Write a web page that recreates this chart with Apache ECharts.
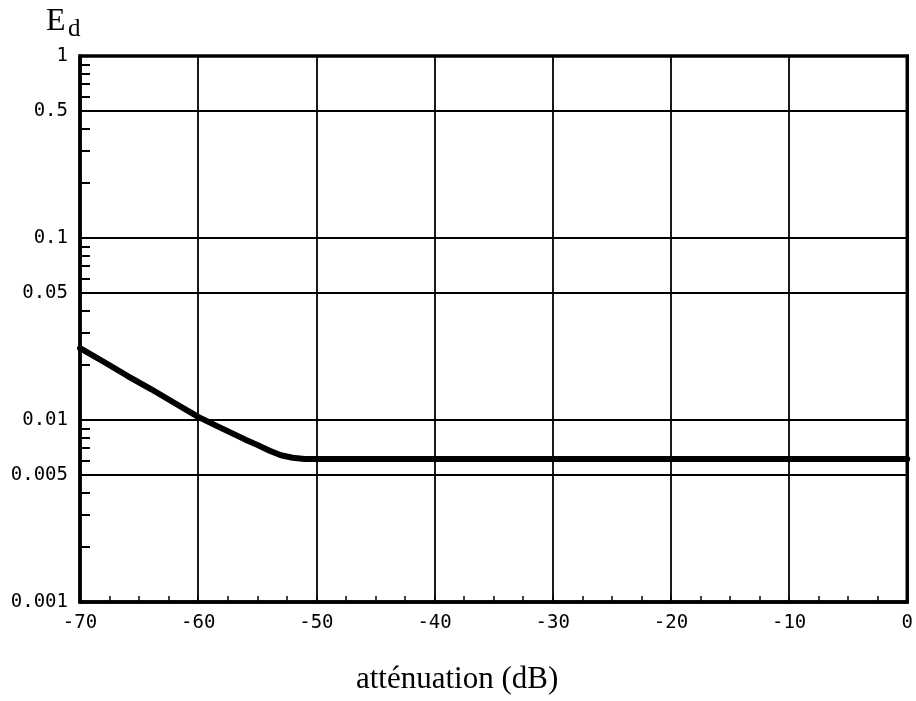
<!DOCTYPE html>
<html>
<head>
<meta charset="utf-8">
<script src="https://cdn.jsdelivr.net/npm/echarts@6/dist/echarts.min.js"></script>
<style>
html,body{margin:0;padding:0;background:#fff;}
#chart{width:916px;height:701px;}
</style>
</head>
<body>
<div id="chart"></div>
<script>
// Data
const attenuation = [-70, -68, -66, -64, -62, -60, -58, -56, -55, -54, -53, -52, -51, -50, -40, -30, -20, -10, 0];
const ed = [0.0248, 0.0209, 0.0175, 0.0148, 0.0124, 0.0104, 0.0090, 0.0078, 0.0073, 0.0068, 0.0064, 0.0062, 0.0061, 0.0061, 0.0061, 0.0061, 0.0061, 0.0061, 0.0061];
const yLabelValues = [0.001, 0.005, 0.01, 0.05, 0.1, 0.5, 1];
const yMinorValues = [0.002, 0.003, 0.004, 0.006, 0.007, 0.008, 0.009,
                      0.02, 0.03, 0.04, 0.06, 0.07, 0.08, 0.09,
                      0.2, 0.3, 0.4, 0.6, 0.7, 0.8, 0.9];
const xTitle = 'atténuation (dB)';

const lg = v => Math.log10(v);
const fmt = v => {
  const p = Math.pow(10, v);
  return String(parseFloat(p.toPrecision(3)));
};

const gridBox = {left: 80, right: 8, top: 56, bottom: 99};
const chart = echarts.init(document.getElementById('chart'));
const monoFont = '"DejaVu Sans Mono", monospace';
chart.setOption({
  animation: false,
  backgroundColor: '#fff',
  grid: [
    Object.assign({show: true, borderColor: '#000', borderWidth: 3.5, backgroundColor: 'transparent'}, gridBox),
    Object.assign({show: false}, gridBox)
  ],
  xAxis: [{
    type: 'value', gridIndex: 0, min: -70, max: 0, interval: 10,
    axisLine: {show: true, onZero: false, lineStyle: {color: '#000', width: 3.5}},
    axisTick: {show: true, inside: true, length: 6, lineStyle: {color: '#000', width: 1.5}},
    minorTick: {show: true, splitNumber: 4, length: 6, lineStyle: {color: '#000', width: 1.5}},
    splitLine: {show: true, lineStyle: {color: '#000', width: 1.8}},
    axisLabel: {fontFamily: monoFont, fontSize: 19, color: '#000', margin: 12}
  }, {
    type: 'value', gridIndex: 1, min: -70, max: 0, show: false
  }],
  yAxis: [{
    type: 'value', gridIndex: 0, min: -3, max: 0, position: 'left',
    axisLine: {show: true, onZero: false, lineStyle: {color: '#000', width: 3.5}},
    axisTick: {show: false, customValues: yLabelValues.map(lg)},
    splitLine: {show: true, lineStyle: {color: '#000', width: 1.8}},
    axisLabel: {customValues: yLabelValues.map(lg), formatter: fmt, fontFamily: monoFont, fontSize: 19, color: '#000', margin: 12}
  }, {
    type: 'value', gridIndex: 1, min: -3, max: 0, position: 'left',
    axisLine: {show: false, onZero: false},
    axisTick: {show: true, inside: true, length: 10, customValues: yMinorValues.map(lg), lineStyle: {color: '#000', width: 2}},
    splitLine: {show: false},
    axisLabel: {show: false}
  }],
  series: [{
    type: 'line',
    xAxisIndex: 0,
    yAxisIndex: 0,
    data: attenuation.map((x, i) => [x, lg(ed[i])]),
    symbol: 'none',
    lineStyle: {color: '#000', width: 6, join: 'round', cap: 'round'}
  }],
  graphic: [
    {type: 'text', left: 46, top: 6, style: {text: 'E', font: '32px "Liberation Serif", serif', fill: '#000'}},
    {type: 'text', left: 68, top: 17, style: {text: 'd', font: '25px "Liberation Serif", serif', fill: '#000'}},
    {type: 'text', left: 356, top: 664, style: {text: xTitle, font: '31px "Liberation Serif", serif', fill: '#000'}}
  ]
});
</script>
</body>
</html>
